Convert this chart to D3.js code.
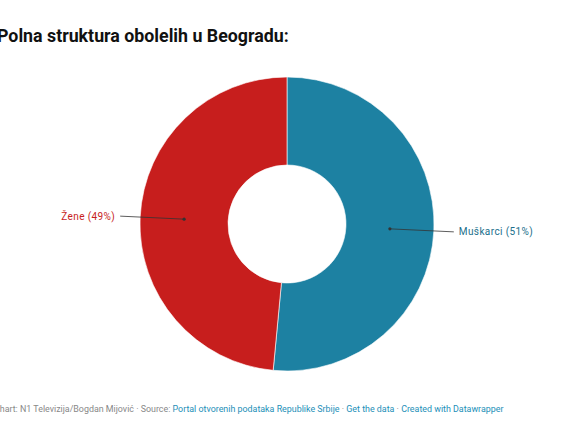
<!DOCTYPE html>
<html>
<head>
<meta charset="utf-8">
<script src="https://cdn.jsdelivr.net/npm/d3@7"></script>
<style>
  body { margin: 0; background: #fff; }
  svg { font-family: Roboto, sans-serif; }
</style>
</head>
<body>
<div id="chart"></div>
<script>
var categories = ['Muškarci', 'Žene'];
var shares = [51.5, 48.5];
var shareLabels = ['51%', '49%'];
var colors = ['#1d81a2', '#c71e1d'];
var labelColors = ['#1b6f8c', '#c71e1d'];

var width = 582, height = 437;
var cx = 287, cy = 224, outerR = 147, innerR = 59;

var svg = d3.select('#chart').append('svg')
  .attr('width', width)
  .attr('height', height);

svg.append('text')
  .attr('x', -3)
  .attr('y', 42)
  .style('font-size', '17.8px')
  .style('font-weight', 'bold')
  .style('fill', '#111')
  .text('Polna struktura obolelih u Beogradu:');

var data = categories.map(function (c, i) {
  return { name: c, value: shares[i], label: shareLabels[i], color: colors[i], lc: labelColors[i] };
});

var pie = d3.pie().sort(null).value(function (d) { return d.value; });
var arc = d3.arc().innerRadius(innerR).outerRadius(outerR);
var arcs = pie(data);

var g = svg.append('g').attr('transform', 'translate(' + cx + ',' + cy + ')');

g.selectAll('path.slice')
  .data(arcs)
  .enter().append('path')
  .attr('class', 'slice')
  .attr('d', arc)
  .style('fill', function (d) { return d.data.color; })
  .style('stroke', '#fff')
  .style('stroke-width', 0.6);

var mid = function (d) { return (d.startAngle + d.endAngle) / 2; };
var pt = function (a, r) { return [Math.sin(a) * r, -Math.cos(a) * r]; };
var midR = (innerR + outerR) / 2;

var lbl = g.selectAll('g.lbl').data(arcs).enter().append('g').attr('class', 'lbl');

lbl.append('line')
  .attr('x1', function (d) { return pt(mid(d), midR)[0]; })
  .attr('y1', function (d) { return pt(mid(d), midR)[1]; })
  .attr('x2', function (d) { return pt(mid(d), outerR + 20)[0]; })
  .attr('y2', function (d) { return pt(mid(d), outerR + 20)[1]; })
  .style('stroke', '#333')
  .style('stroke-width', 0.8);

lbl.append('circle')
  .attr('cx', function (d) { return pt(mid(d), midR)[0]; })
  .attr('cy', function (d) { return pt(mid(d), midR)[1]; })
  .attr('r', 1.6)
  .style('fill', '#333');

lbl.append('text')
  .attr('x', function (d) { var p = pt(mid(d), outerR + 25); return p[0]; })
  .attr('y', function (d) { return pt(mid(d), outerR + 20)[1]; })
  .attr('dy', '0.35em')
  .attr('text-anchor', function (d) { return mid(d) < Math.PI ? 'start' : 'end'; })
  .style('font-size', '10px')
  .style('letter-spacing', '0.4px')
  .style('fill', function (d) { return d.data.lc; })
  .text(function (d) { return d.data.name + ' (' + d.data.label + ')'; });

var foot = svg.append('text')
  .attr('x', -6)
  .attr('y', 412)
  .style('font-size', '8.9px');
foot.append('tspan').style('fill', '#888').text('Chart: N1 Televizija/Bogdan Mijović · Source: ');
foot.append('tspan').style('fill', '#1d8fb8').text('Portal otvorenih podataka Republike Srbije');
foot.append('tspan').style('fill', '#888').text(' · ');
foot.append('tspan').style('fill', '#1d8fb8').text('Get the data');
foot.append('tspan').style('fill', '#888').text(' · ');
foot.append('tspan').style('fill', '#1d8fb8').text('Created with Datawrapper');
</script>
</body>
</html>
